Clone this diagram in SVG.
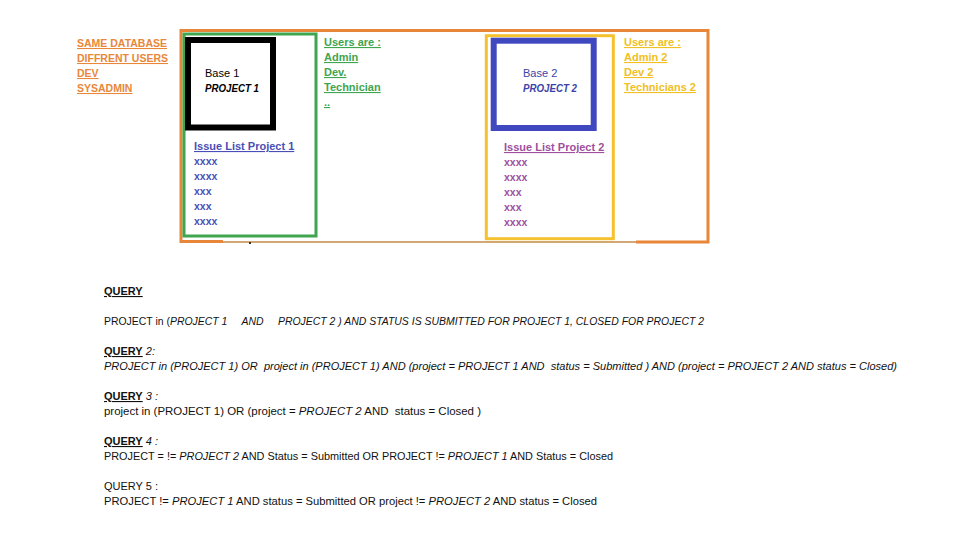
<svg xmlns="http://www.w3.org/2000/svg" width="960" height="540" viewBox="0 0 960 540">
<style>
text{font-family:"Liberation Sans",Arial,sans-serif;font-size:11px;white-space:pre}
.b{font-weight:bold}
.u{text-decoration:underline}
.i{font-style:italic}
.or{fill:#e8873a}
.gr{fill:#3fa54f}
.bl{fill:#4a4fb5}
.bl2{fill:#3a44a8}
.pu{fill:#9e4f9e}
.ye{fill:#f0c024}
.sm{font-size:10.5px}
.q{fill:#111}
</style>
<rect width="960" height="540" fill="#fff"/>
<g id="database">
<path d="M223,241.5 H181 V30.5 H708 V242 H636" fill="none" stroke="#e8873a" stroke-width="3"/>
<line x1="223" y1="242" x2="636" y2="242" stroke="#d1a774" stroke-width="2"/>
<rect x="249" y="242" width="2" height="2" fill="#333"/>
</g>
<g id="db-label">
<text class="b u or sm" x="77" y="47">SAME DATABASE</text>
<text class="b u or sm" x="77" y="62">DIFFRENT USERS</text>
<text class="b u or sm" x="77" y="77">DEV</text>
<text class="b u or sm" x="77" y="92">SYSADMIN</text>
</g>
<g id="project1-area">
<rect x="184" y="34" width="132" height="202" fill="none" stroke="#3fa54f" stroke-width="3"/>
</g>
<g id="base1">
<rect x="188" y="40" width="85" height="87.5" fill="#fff" stroke="#000" stroke-width="6"/>
<text x="205" y="77" fill="#000">Base 1</text>
<text class="b i" x="205" y="92" fill="#000" textLength="54" lengthAdjust="spacingAndGlyphs">PROJECT 1</text>
</g>
<g id="issues1">
<text class="b u bl" x="194" y="150">Issue List Project 1</text>
<text class="b bl sm" x="194" y="165">xxxx</text>
<text class="b bl sm" x="194" y="180">xxxx</text>
<text class="b bl sm" x="194" y="195">xxx</text>
<text class="b bl sm" x="194" y="210">xxx</text>
<text class="b bl sm" x="194" y="225">xxxx</text>
</g>
<g id="users1">
<text class="b u gr" x="324" y="46">Users are :</text>
<text class="b u gr" x="324" y="61">Admin</text>
<text class="b u gr" x="324" y="76">Dev.</text>
<text class="b u gr" x="324" y="91">Technician</text>
<text class="b u gr" x="324" y="106">..</text>
</g>
<g id="project2-area">
<rect x="486.3" y="35.7" width="127" height="203" fill="none" stroke="#f5c12e" stroke-width="3"/>
</g>
<g id="base2">
<rect x="493.7" y="40.7" width="100" height="87.3" fill="#fff" stroke="#4048bf" stroke-width="6"/>
<text class="bl2" x="523" y="77">Base 2</text>
<text class="b i bl2" x="523" y="92" textLength="54" lengthAdjust="spacingAndGlyphs">PROJECT 2</text>
</g>
<g id="issues2">
<text class="b u pu" x="504" y="151">Issue List Project 2</text>
<text class="b pu sm" x="504" y="166">xxxx</text>
<text class="b pu sm" x="504" y="181">xxxx</text>
<text class="b pu sm" x="504" y="196">xxx</text>
<text class="b pu sm" x="504" y="211">xxx</text>
<text class="b pu sm" x="504" y="226">xxxx</text>
</g>
<g id="users2">
<text class="b u ye" x="624" y="46">Users are :</text>
<text class="b u ye" x="624" y="61">Admin 2</text>
<text class="b u ye" x="624" y="76">Dev 2</text>
<text class="b u ye" x="624" y="91">Technicians 2</text>
</g>
<g id="queries">
<text class="q b u" x="104" y="295">QUERY</text>
<text class="q" x="104" y="325" textLength="600" lengthAdjust="spacingAndGlyphs">PROJECT in (<tspan class="i">PROJECT 1     AND     PROJECT 2 ) AND STATUS IS SUBMITTED FOR PROJECT 1, CLOSED FOR PROJECT 2</tspan></text>
<text class="q" x="104" y="355"><tspan class="b u">QUERY</tspan><tspan class="i"> 2:</tspan></text>
<text class="q i" x="104" y="370" textLength="793" lengthAdjust="spacingAndGlyphs">PROJECT in (PROJECT 1) OR  project in (PROJECT 1) AND (project = PROJECT 1 AND  status = Submitted ) AND (project = PROJECT 2 AND status = Closed)</text>
<text class="q" x="104" y="400"><tspan class="b u">QUERY</tspan><tspan class="i"> 3 :</tspan></text>
<text class="q" x="104" y="415" textLength="377" lengthAdjust="spacingAndGlyphs">project in (PROJECT 1) OR (project = <tspan class="i">PROJECT 2</tspan> AND  status = Closed )</text>
<text class="q" x="104" y="445"><tspan class="b u">QUERY</tspan><tspan class="i"> 4 :</tspan></text>
<text class="q" x="104" y="460" textLength="509" lengthAdjust="spacingAndGlyphs">PROJECT = != <tspan class="i">PROJECT 2</tspan> AND Status = Submitted OR PROJECT != <tspan class="i">PROJECT 1</tspan> AND Status = Closed</text>
<text class="q" x="104" y="490">QUERY 5 :</text>
<text class="q" x="104" y="505" textLength="493" lengthAdjust="spacingAndGlyphs">PROJECT != <tspan class="i">PROJECT 1</tspan> AND status = Submitted OR project != <tspan class="i">PROJECT 2</tspan> AND status = Closed</text>
</g>
</svg>
